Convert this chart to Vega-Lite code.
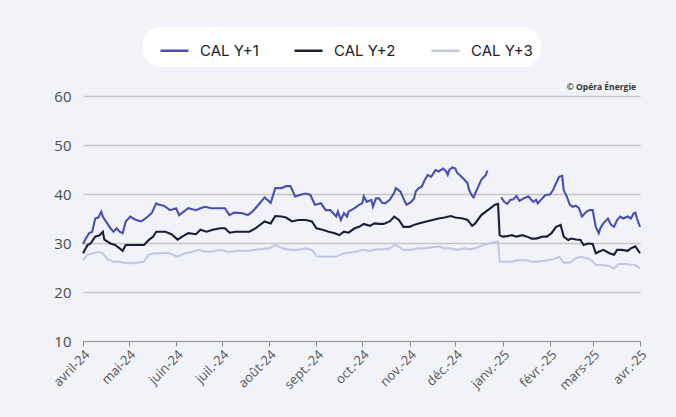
{
  "$schema": "https://vega.github.io/schema/vega-lite/v6.json",
  "width": 557,
  "height": 245,
  "autosize": {"type": "none"},
  "padding": {"left": 83, "top": 96, "right": 36, "bottom": 76},
  "background": "#f1f3f8",
  "config": {"view": {"stroke": null}},
  "layer": [
    {
      "data": {"values": [
    {"d":"2024-04-01","s":"CAL Y+1","v":29.8},{"d":"2024-04-03","s":"CAL Y+1","v":31.0},{"d":"2024-04-05","s":"CAL Y+1","v":32.0},{"d":"2024-04-07","s":"CAL Y+1","v":32.3},{"d":"2024-04-09","s":"CAL Y+1","v":35.0},{"d":"2024-04-11","s":"CAL Y+1","v":35.2},{"d":"2024-04-13","s":"CAL Y+1","v":36.4},{"d":"2024-04-14","s":"CAL Y+1","v":35.4},{"d":"2024-04-16","s":"CAL Y+1","v":34.4},{"d":"2024-04-19","s":"CAL Y+1","v":33.0},{"d":"2024-04-21","s":"CAL Y+1","v":32.3},{"d":"2024-04-23","s":"CAL Y+1","v":33.0},{"d":"2024-04-25","s":"CAL Y+1","v":32.3},{"d":"2024-04-27","s":"CAL Y+1","v":32.0},{"d":"2024-04-29","s":"CAL Y+1","v":34.4},{"d":"2024-05-02","s":"CAL Y+1","v":35.4},{"d":"2024-05-05","s":"CAL Y+1","v":34.8},{"d":"2024-05-09","s":"CAL Y+1","v":34.4},{"d":"2024-05-12","s":"CAL Y+1","v":35.0},{"d":"2024-05-16","s":"CAL Y+1","v":36.1},{"d":"2024-05-19","s":"CAL Y+1","v":38.1},{"d":"2024-05-21","s":"CAL Y+1","v":37.8},{"d":"2024-05-24","s":"CAL Y+1","v":37.6},{"d":"2024-05-28","s":"CAL Y+1","v":36.7},{"d":"2024-06-01","s":"CAL Y+1","v":37.1},{"d":"2024-06-03","s":"CAL Y+1","v":35.7},{"d":"2024-06-06","s":"CAL Y+1","v":36.4},{"d":"2024-06-09","s":"CAL Y+1","v":37.1},{"d":"2024-06-14","s":"CAL Y+1","v":36.7},{"d":"2024-06-17","s":"CAL Y+1","v":37.1},{"d":"2024-06-20","s":"CAL Y+1","v":37.4},{"d":"2024-06-24","s":"CAL Y+1","v":37.1},{"d":"2024-06-29","s":"CAL Y+1","v":37.1},{"d":"2024-07-03","s":"CAL Y+1","v":37.1},{"d":"2024-07-06","s":"CAL Y+1","v":35.7},{"d":"2024-07-09","s":"CAL Y+1","v":36.2},{"d":"2024-07-14","s":"CAL Y+1","v":36.1},{"d":"2024-07-18","s":"CAL Y+1","v":35.7},{"d":"2024-07-21","s":"CAL Y+1","v":36.4},{"d":"2024-07-25","s":"CAL Y+1","v":37.8},{"d":"2024-07-29","s":"CAL Y+1","v":39.3},{"d":"2024-08-02","s":"CAL Y+1","v":38.2},{"d":"2024-08-05","s":"CAL Y+1","v":41.2},{"d":"2024-08-09","s":"CAL Y+1","v":41.2},{"d":"2024-08-12","s":"CAL Y+1","v":41.6},{"d":"2024-08-15","s":"CAL Y+1","v":41.6},{"d":"2024-08-18","s":"CAL Y+1","v":39.5},{"d":"2024-08-21","s":"CAL Y+1","v":39.8},{"d":"2024-08-25","s":"CAL Y+1","v":40.1},{"d":"2024-08-28","s":"CAL Y+1","v":39.8},{"d":"2024-08-31","s":"CAL Y+1","v":37.8},{"d":"2024-09-04","s":"CAL Y+1","v":38.1},{"d":"2024-09-07","s":"CAL Y+1","v":36.7},{"d":"2024-09-10","s":"CAL Y+1","v":36.7},{"d":"2024-09-14","s":"CAL Y+1","v":35.4},{"d":"2024-09-15","s":"CAL Y+1","v":36.4},{"d":"2024-09-17","s":"CAL Y+1","v":34.7},{"d":"2024-09-19","s":"CAL Y+1","v":36.1},{"d":"2024-09-21","s":"CAL Y+1","v":35.4},{"d":"2024-09-22","s":"CAL Y+1","v":36.4},{"d":"2024-09-26","s":"CAL Y+1","v":37.1},{"d":"2024-09-29","s":"CAL Y+1","v":37.8},{"d":"2024-10-01","s":"CAL Y+1","v":38.1},{"d":"2024-10-02","s":"CAL Y+1","v":39.5},{"d":"2024-10-04","s":"CAL Y+1","v":38.4},{"d":"2024-10-07","s":"CAL Y+1","v":38.8},{"d":"2024-10-08","s":"CAL Y+1","v":37.4},{"d":"2024-10-10","s":"CAL Y+1","v":39.1},{"d":"2024-10-12","s":"CAL Y+1","v":39.1},{"d":"2024-10-14","s":"CAL Y+1","v":38.2},{"d":"2024-10-16","s":"CAL Y+1","v":38.1},{"d":"2024-10-19","s":"CAL Y+1","v":38.8},{"d":"2024-10-22","s":"CAL Y+1","v":40.3},{"d":"2024-10-23","s":"CAL Y+1","v":41.2},{"d":"2024-10-26","s":"CAL Y+1","v":40.5},{"d":"2024-10-28","s":"CAL Y+1","v":39.1},{"d":"2024-10-29","s":"CAL Y+1","v":38.4},{"d":"2024-10-30","s":"CAL Y+1","v":37.8},{"d":"2024-11-02","s":"CAL Y+1","v":38.4},{"d":"2024-11-04","s":"CAL Y+1","v":39.1},{"d":"2024-11-05","s":"CAL Y+1","v":40.5},{"d":"2024-11-07","s":"CAL Y+1","v":41.2},{"d":"2024-11-09","s":"CAL Y+1","v":41.5},{"d":"2024-11-11","s":"CAL Y+1","v":42.9},{"d":"2024-11-13","s":"CAL Y+1","v":43.9},{"d":"2024-11-15","s":"CAL Y+1","v":43.5},{"d":"2024-11-16","s":"CAL Y+1","v":43.9},{"d":"2024-11-18","s":"CAL Y+1","v":44.9},{"d":"2024-11-20","s":"CAL Y+1","v":44.6},{"d":"2024-11-23","s":"CAL Y+1","v":45.2},{"d":"2024-11-25","s":"CAL Y+1","v":44.6},{"d":"2024-11-26","s":"CAL Y+1","v":43.9},{"d":"2024-11-27","s":"CAL Y+1","v":44.9},{"d":"2024-11-29","s":"CAL Y+1","v":45.4},{"d":"2024-12-01","s":"CAL Y+1","v":45.2},{"d":"2024-12-02","s":"CAL Y+1","v":44.4},{"d":"2024-12-05","s":"CAL Y+1","v":43.5},{"d":"2024-12-07","s":"CAL Y+1","v":42.9},{"d":"2024-12-09","s":"CAL Y+1","v":42.2},{"d":"2024-12-10","s":"CAL Y+1","v":40.8},{"d":"2024-12-12","s":"CAL Y+1","v":39.6},{"d":"2024-12-13","s":"CAL Y+1","v":39.3},{"d":"2024-12-14","s":"CAL Y+1","v":40.1},{"d":"2024-12-16","s":"CAL Y+1","v":41.5},{"d":"2024-12-18","s":"CAL Y+1","v":42.9},{"d":"2024-12-21","s":"CAL Y+1","v":43.9},{"d":"2024-12-22","s":"CAL Y+1","v":44.8},{"d":"2024-12-27","s":"CAL Y+1","v":null},{"d":"2024-12-31","s":"CAL Y+1","v":39.3},{"d":"2025-01-02","s":"CAL Y+1","v":38.4},{"d":"2025-01-04","s":"CAL Y+1","v":38.0},{"d":"2025-01-06","s":"CAL Y+1","v":38.8},{"d":"2025-01-08","s":"CAL Y+1","v":38.9},{"d":"2025-01-10","s":"CAL Y+1","v":39.6},{"d":"2025-01-12","s":"CAL Y+1","v":38.6},{"d":"2025-01-16","s":"CAL Y+1","v":39.3},{"d":"2025-01-18","s":"CAL Y+1","v":39.5},{"d":"2025-01-21","s":"CAL Y+1","v":38.4},{"d":"2025-01-23","s":"CAL Y+1","v":38.8},{"d":"2025-01-24","s":"CAL Y+1","v":38.1},{"d":"2025-01-27","s":"CAL Y+1","v":39.1},{"d":"2025-01-29","s":"CAL Y+1","v":39.8},{"d":"2025-02-01","s":"CAL Y+1","v":39.9},{"d":"2025-02-03","s":"CAL Y+1","v":40.8},{"d":"2025-02-05","s":"CAL Y+1","v":42.2},{"d":"2025-02-07","s":"CAL Y+1","v":43.5},{"d":"2025-02-09","s":"CAL Y+1","v":43.7},{"d":"2025-02-10","s":"CAL Y+1","v":40.8},{"d":"2025-02-12","s":"CAL Y+1","v":39.5},{"d":"2025-02-14","s":"CAL Y+1","v":37.8},{"d":"2025-02-16","s":"CAL Y+1","v":37.4},{"d":"2025-02-18","s":"CAL Y+1","v":37.6},{"d":"2025-02-20","s":"CAL Y+1","v":37.1},{"d":"2025-02-22","s":"CAL Y+1","v":35.4},{"d":"2025-02-25","s":"CAL Y+1","v":36.4},{"d":"2025-02-27","s":"CAL Y+1","v":36.7},{"d":"2025-03-01","s":"CAL Y+1","v":36.7},{"d":"2025-03-03","s":"CAL Y+1","v":33.3},{"d":"2025-03-05","s":"CAL Y+1","v":32.0},{"d":"2025-03-06","s":"CAL Y+1","v":33.0},{"d":"2025-03-08","s":"CAL Y+1","v":34.0},{"d":"2025-03-11","s":"CAL Y+1","v":35.0},{"d":"2025-03-13","s":"CAL Y+1","v":33.7},{"d":"2025-03-15","s":"CAL Y+1","v":33.3},{"d":"2025-03-17","s":"CAL Y+1","v":34.7},{"d":"2025-03-19","s":"CAL Y+1","v":35.4},{"d":"2025-03-21","s":"CAL Y+1","v":35.0},{"d":"2025-03-24","s":"CAL Y+1","v":35.4},{"d":"2025-03-26","s":"CAL Y+1","v":35.0},{"d":"2025-03-28","s":"CAL Y+1","v":36.1},{"d":"2025-03-29","s":"CAL Y+1","v":36.2},{"d":"2025-03-30","s":"CAL Y+1","v":35.0},{"d":"2025-04-01","s":"CAL Y+1","v":33.3},

    {"d":"2024-04-01","s":"CAL Y+2","v":27.9},{"d":"2024-04-04","s":"CAL Y+2","v":29.6},{"d":"2024-04-06","s":"CAL Y+2","v":29.9},{"d":"2024-04-09","s":"CAL Y+2","v":31.3},{"d":"2024-04-12","s":"CAL Y+2","v":31.6},{"d":"2024-04-14","s":"CAL Y+2","v":32.3},{"d":"2024-04-15","s":"CAL Y+2","v":30.7},{"d":"2024-04-19","s":"CAL Y+2","v":29.9},{"d":"2024-04-22","s":"CAL Y+2","v":29.6},{"d":"2024-04-25","s":"CAL Y+2","v":28.9},{"d":"2024-04-27","s":"CAL Y+2","v":28.4},{"d":"2024-04-29","s":"CAL Y+2","v":29.6},{"d":"2024-05-03","s":"CAL Y+2","v":29.6},{"d":"2024-05-08","s":"CAL Y+2","v":29.6},{"d":"2024-05-11","s":"CAL Y+2","v":29.6},{"d":"2024-05-14","s":"CAL Y+2","v":30.6},{"d":"2024-05-17","s":"CAL Y+2","v":31.3},{"d":"2024-05-19","s":"CAL Y+2","v":32.3},{"d":"2024-05-22","s":"CAL Y+2","v":32.3},{"d":"2024-05-25","s":"CAL Y+2","v":32.3},{"d":"2024-05-29","s":"CAL Y+2","v":31.8},{"d":"2024-06-02","s":"CAL Y+2","v":30.7},{"d":"2024-06-05","s":"CAL Y+2","v":31.3},{"d":"2024-06-09","s":"CAL Y+2","v":32.0},{"d":"2024-06-14","s":"CAL Y+2","v":31.8},{"d":"2024-06-17","s":"CAL Y+2","v":32.7},{"d":"2024-06-21","s":"CAL Y+2","v":32.3},{"d":"2024-06-25","s":"CAL Y+2","v":32.7},{"d":"2024-06-30","s":"CAL Y+2","v":33.0},{"d":"2024-07-03","s":"CAL Y+2","v":33.0},{"d":"2024-07-06","s":"CAL Y+2","v":32.1},{"d":"2024-07-10","s":"CAL Y+2","v":32.3},{"d":"2024-07-15","s":"CAL Y+2","v":32.3},{"d":"2024-07-19","s":"CAL Y+2","v":32.3},{"d":"2024-07-23","s":"CAL Y+2","v":33.0},{"d":"2024-07-29","s":"CAL Y+2","v":34.4},{"d":"2024-08-02","s":"CAL Y+2","v":34.0},{"d":"2024-08-05","s":"CAL Y+2","v":35.5},{"d":"2024-08-09","s":"CAL Y+2","v":35.4},{"d":"2024-08-12","s":"CAL Y+2","v":35.2},{"d":"2024-08-16","s":"CAL Y+2","v":34.4},{"d":"2024-08-20","s":"CAL Y+2","v":34.7},{"d":"2024-08-25","s":"CAL Y+2","v":34.7},{"d":"2024-08-29","s":"CAL Y+2","v":34.4},{"d":"2024-09-01","s":"CAL Y+2","v":33.0},{"d":"2024-09-05","s":"CAL Y+2","v":32.7},{"d":"2024-09-09","s":"CAL Y+2","v":32.3},{"d":"2024-09-13","s":"CAL Y+2","v":32.0},{"d":"2024-09-16","s":"CAL Y+2","v":31.6},{"d":"2024-09-19","s":"CAL Y+2","v":32.3},{"d":"2024-09-22","s":"CAL Y+2","v":32.1},{"d":"2024-09-26","s":"CAL Y+2","v":33.0},{"d":"2024-09-29","s":"CAL Y+2","v":33.3},{"d":"2024-10-02","s":"CAL Y+2","v":33.9},{"d":"2024-10-06","s":"CAL Y+2","v":33.5},{"d":"2024-10-09","s":"CAL Y+2","v":34.0},{"d":"2024-10-12","s":"CAL Y+2","v":33.9},{"d":"2024-10-15","s":"CAL Y+2","v":33.9},{"d":"2024-10-19","s":"CAL Y+2","v":34.4},{"d":"2024-10-22","s":"CAL Y+2","v":35.4},{"d":"2024-10-25","s":"CAL Y+2","v":34.7},{"d":"2024-10-28","s":"CAL Y+2","v":33.3},{"d":"2024-11-01","s":"CAL Y+2","v":33.3},{"d":"2024-11-04","s":"CAL Y+2","v":33.7},{"d":"2024-11-07","s":"CAL Y+2","v":34.0},{"d":"2024-11-12","s":"CAL Y+2","v":34.4},{"d":"2024-11-16","s":"CAL Y+2","v":34.7},{"d":"2024-11-20","s":"CAL Y+2","v":35.0},{"d":"2024-11-24","s":"CAL Y+2","v":35.2},{"d":"2024-11-28","s":"CAL Y+2","v":35.5},{"d":"2024-12-01","s":"CAL Y+2","v":35.2},{"d":"2024-12-06","s":"CAL Y+2","v":35.0},{"d":"2024-12-09","s":"CAL Y+2","v":34.7},{"d":"2024-12-12","s":"CAL Y+2","v":33.5},{"d":"2024-12-14","s":"CAL Y+2","v":34.0},{"d":"2024-12-18","s":"CAL Y+2","v":35.7},{"d":"2024-12-21","s":"CAL Y+2","v":36.4},{"d":"2024-12-24","s":"CAL Y+2","v":37.1},{"d":"2024-12-27","s":"CAL Y+2","v":37.8},{"d":"2024-12-29","s":"CAL Y+2","v":38.0},{"d":"2024-12-30","s":"CAL Y+2","v":31.6},{"d":"2025-01-01","s":"CAL Y+2","v":31.3},{"d":"2025-01-04","s":"CAL Y+2","v":31.4},{"d":"2025-01-07","s":"CAL Y+2","v":31.6},{"d":"2025-01-10","s":"CAL Y+2","v":31.3},{"d":"2025-01-14","s":"CAL Y+2","v":31.6},{"d":"2025-01-17","s":"CAL Y+2","v":31.3},{"d":"2025-01-20","s":"CAL Y+2","v":30.9},{"d":"2025-01-23","s":"CAL Y+2","v":30.9},{"d":"2025-01-27","s":"CAL Y+2","v":31.3},{"d":"2025-01-30","s":"CAL Y+2","v":31.3},{"d":"2025-02-02","s":"CAL Y+2","v":32.0},{"d":"2025-02-05","s":"CAL Y+2","v":33.3},{"d":"2025-02-08","s":"CAL Y+2","v":33.7},{"d":"2025-02-10","s":"CAL Y+2","v":31.3},{"d":"2025-02-13","s":"CAL Y+2","v":30.6},{"d":"2025-02-15","s":"CAL Y+2","v":30.9},{"d":"2025-02-18","s":"CAL Y+2","v":30.7},{"d":"2025-02-21","s":"CAL Y+2","v":30.6},{"d":"2025-02-23","s":"CAL Y+2","v":29.6},{"d":"2025-02-26","s":"CAL Y+2","v":29.9},{"d":"2025-03-01","s":"CAL Y+2","v":29.8},{"d":"2025-03-03","s":"CAL Y+2","v":27.9},{"d":"2025-03-05","s":"CAL Y+2","v":28.2},{"d":"2025-03-08","s":"CAL Y+2","v":28.6},{"d":"2025-03-12","s":"CAL Y+2","v":27.9},{"d":"2025-03-15","s":"CAL Y+2","v":27.6},{"d":"2025-03-17","s":"CAL Y+2","v":28.6},{"d":"2025-03-20","s":"CAL Y+2","v":28.6},{"d":"2025-03-24","s":"CAL Y+2","v":28.4},{"d":"2025-03-26","s":"CAL Y+2","v":28.9},{"d":"2025-03-29","s":"CAL Y+2","v":29.3},{"d":"2025-04-01","s":"CAL Y+2","v":27.9},

    {"d":"2024-04-01","s":"CAL Y+3","v":26.5},{"d":"2024-04-04","s":"CAL Y+3","v":27.6},{"d":"2024-04-08","s":"CAL Y+3","v":27.9},{"d":"2024-04-11","s":"CAL Y+3","v":28.2},{"d":"2024-04-14","s":"CAL Y+3","v":27.9},{"d":"2024-04-17","s":"CAL Y+3","v":26.7},{"d":"2024-04-21","s":"CAL Y+3","v":26.2},{"d":"2024-04-25","s":"CAL Y+3","v":26.2},{"d":"2024-04-29","s":"CAL Y+3","v":25.9},{"d":"2024-05-02","s":"CAL Y+3","v":25.9},{"d":"2024-05-07","s":"CAL Y+3","v":26.0},{"d":"2024-05-11","s":"CAL Y+3","v":26.2},{"d":"2024-05-14","s":"CAL Y+3","v":27.6},{"d":"2024-05-18","s":"CAL Y+3","v":27.9},{"d":"2024-05-22","s":"CAL Y+3","v":27.9},{"d":"2024-05-27","s":"CAL Y+3","v":28.0},{"d":"2024-06-02","s":"CAL Y+3","v":27.2},{"d":"2024-06-07","s":"CAL Y+3","v":27.9},{"d":"2024-06-12","s":"CAL Y+3","v":28.2},{"d":"2024-06-16","s":"CAL Y+3","v":28.6},{"d":"2024-06-20","s":"CAL Y+3","v":28.2},{"d":"2024-06-24","s":"CAL Y+3","v":28.2},{"d":"2024-06-30","s":"CAL Y+3","v":28.6},{"d":"2024-07-05","s":"CAL Y+3","v":28.2},{"d":"2024-07-11","s":"CAL Y+3","v":28.4},{"d":"2024-07-18","s":"CAL Y+3","v":28.4},{"d":"2024-07-24","s":"CAL Y+3","v":28.7},{"d":"2024-08-01","s":"CAL Y+3","v":28.9},{"d":"2024-08-05","s":"CAL Y+3","v":29.6},{"d":"2024-08-10","s":"CAL Y+3","v":28.9},{"d":"2024-08-15","s":"CAL Y+3","v":28.6},{"d":"2024-08-19","s":"CAL Y+3","v":28.6},{"d":"2024-08-25","s":"CAL Y+3","v":28.9},{"d":"2024-08-29","s":"CAL Y+3","v":28.6},{"d":"2024-09-01","s":"CAL Y+3","v":27.3},{"d":"2024-09-07","s":"CAL Y+3","v":27.2},{"d":"2024-09-11","s":"CAL Y+3","v":27.2},{"d":"2024-09-14","s":"CAL Y+3","v":27.2},{"d":"2024-09-18","s":"CAL Y+3","v":27.8},{"d":"2024-09-22","s":"CAL Y+3","v":28.0},{"d":"2024-09-27","s":"CAL Y+3","v":28.2},{"d":"2024-10-01","s":"CAL Y+3","v":28.6},{"d":"2024-10-06","s":"CAL Y+3","v":28.4},{"d":"2024-10-10","s":"CAL Y+3","v":28.7},{"d":"2024-10-14","s":"CAL Y+3","v":28.7},{"d":"2024-10-19","s":"CAL Y+3","v":28.9},{"d":"2024-10-22","s":"CAL Y+3","v":29.6},{"d":"2024-10-24","s":"CAL Y+3","v":29.4},{"d":"2024-10-28","s":"CAL Y+3","v":28.6},{"d":"2024-11-02","s":"CAL Y+3","v":28.6},{"d":"2024-11-06","s":"CAL Y+3","v":28.9},{"d":"2024-11-11","s":"CAL Y+3","v":28.9},{"d":"2024-11-15","s":"CAL Y+3","v":29.1},{"d":"2024-11-20","s":"CAL Y+3","v":29.3},{"d":"2024-11-24","s":"CAL Y+3","v":28.9},{"d":"2024-11-28","s":"CAL Y+3","v":28.9},{"d":"2024-12-02","s":"CAL Y+3","v":28.6},{"d":"2024-12-07","s":"CAL Y+3","v":28.9},{"d":"2024-12-10","s":"CAL Y+3","v":28.7},{"d":"2024-12-14","s":"CAL Y+3","v":28.9},{"d":"2024-12-19","s":"CAL Y+3","v":29.6},{"d":"2024-12-23","s":"CAL Y+3","v":29.9},{"d":"2024-12-28","s":"CAL Y+3","v":30.3},{"d":"2024-12-29","s":"CAL Y+3","v":30.3},{"d":"2024-12-30","s":"CAL Y+3","v":26.2},{"d":"2025-01-03","s":"CAL Y+3","v":26.2},{"d":"2025-01-07","s":"CAL Y+3","v":26.2},{"d":"2025-01-11","s":"CAL Y+3","v":26.5},{"d":"2025-01-16","s":"CAL Y+3","v":26.5},{"d":"2025-01-20","s":"CAL Y+3","v":26.2},{"d":"2025-01-24","s":"CAL Y+3","v":26.2},{"d":"2025-01-29","s":"CAL Y+3","v":26.4},{"d":"2025-02-03","s":"CAL Y+3","v":26.7},{"d":"2025-02-07","s":"CAL Y+3","v":27.2},{"d":"2025-02-10","s":"CAL Y+3","v":26.0},{"d":"2025-02-14","s":"CAL Y+3","v":26.0},{"d":"2025-02-18","s":"CAL Y+3","v":26.9},{"d":"2025-02-21","s":"CAL Y+3","v":27.2},{"d":"2025-02-25","s":"CAL Y+3","v":26.9},{"d":"2025-02-28","s":"CAL Y+3","v":26.5},{"d":"2025-03-03","s":"CAL Y+3","v":25.5},{"d":"2025-03-07","s":"CAL Y+3","v":25.5},{"d":"2025-03-12","s":"CAL Y+3","v":25.3},{"d":"2025-03-15","s":"CAL Y+3","v":24.8},{"d":"2025-03-18","s":"CAL Y+3","v":25.7},{"d":"2025-03-23","s":"CAL Y+3","v":25.7},{"d":"2025-03-27","s":"CAL Y+3","v":25.5},{"d":"2025-03-29","s":"CAL Y+3","v":25.5},{"d":"2025-04-01","s":"CAL Y+3","v":24.8}
      ]},
      "mark": {"type": "line", "strokeWidth": 2.1, "invalid": "break-paths-filter-domains"},
      "encoding": {
        "x": {
          "field": "d", "type": "temporal",
          "scale": {"type": "utc", "domain": [{"year": 2024, "month": 4, "date": 1, "utc": true}, {"year": 2025, "month": 4, "date": 1, "utc": true}]},
          "axis": {
            "title": null, "grid": false,
            "tickCount": {"interval": "month", "step": 1},
            "labelAngle": -45, "labelFont": "Open Sans", "labelFontSize": 13, "labelColor": "#555555",
            "labelOverlap": false, "labelFlush": false, "labelBound": false,
            "domainColor": "#999999", "tickColor": "#888888", "tickSize": 5,
            "labelExpr": "(utcmonth(datum.value) == 3 && utcyear(datum.value) == 2024 ? 'avril' : ['janv.','févr.','mars','avr.','mai','juin','juil.','août','sept.','oct.','nov.','déc.'][utcmonth(datum.value)]) + '-' + utcFormat(datum.value, '%y')"
          }
        },
        "y": {
          "field": "v", "type": "quantitative",
          "scale": {"domain": [10, 60]},
          "axis": {
            "title": null, "values": [10, 20, 30, 40, 50, 60], "ticks": false, "domain": false,
            "labelPadding": 12, "labelFont": "Open Sans", "labelFontSize": 15, "labelColor": "#4d4d4d",
            "gridColor": "#c6c6c6", "gridWidth": 1.3
          }
        },
        "color": {
          "field": "s", "type": "nominal",
          "scale": {"domain": ["CAL Y+1", "CAL Y+2", "CAL Y+3"], "range": ["#4a4fb3", "#1d1d38", "#c4c7e6"]},
          "legend": {
            "title": null, "orient": "none", "legendX": 60, "legendY": -69, "direction": "horizontal",
            "symbolType": "stroke", "symbolSize": 784, "symbolStrokeWidth": 2.5, "symbolOffset": 8,
            "labelFont": "Inter", "labelFontSize": 15, "labelColor": "#222222", "labelOffset": 10,
            "columnPadding": 26, "padding": 8, "fillColor": "white", "cornerRadius": 18
          }
        }
      }
    },
    {
      "data": {"values": [{"t": "© Opéra Énergie"}]},
      "mark": {"type": "text", "align": "right", "baseline": "bottom", "dx": -4, "dy": -4, "fontSize": 8.5, "fontWeight": "bold", "font": "Open Sans", "color": "#333333"},
      "encoding": {
        "text": {"field": "t"},
        "x": {"datum": {"year": 2025, "month": 4, "date": 1, "utc": true}, "type": "temporal"},
        "y": {"datum": 60, "type": "quantitative"}
      }
    }
  ]
}
